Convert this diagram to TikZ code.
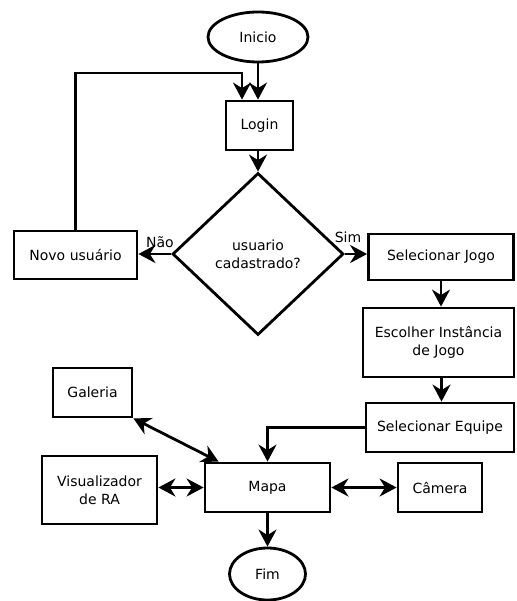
\documentclass[tikz,border=0pt]{standalone}
\usepackage{fontspec}
\setmainfont{DejaVu Sans}
\usetikzlibrary{shapes.geometric,arrows.meta}
\begin{document}
\begin{tikzpicture}[x=1pt,y=-1pt,
  every node/.style={font=\fontsize{14}{18}\selectfont},
  box/.style={draw,line width=2.8pt,rectangle,inner sep=0pt,align=center},
  oval/.style={draw,line width=2.8pt,ellipse,inner sep=0pt},
  tip/.tip={Stealth[length=17pt,width=18pt,inset=5.5pt]},
  arr/.style={line width=2.8pt,-tip},
  darr/.style={line width=2.8pt,tip-tip},
  lbl/.style={inner sep=0pt}]
\useasboundingbox (0,0) rectangle (516,601);
\node[oval,minimum width=100pt,minimum height=50pt] (inicio) at (258,37) {Inicio};
\node[box,minimum width=67pt,minimum height=49pt] (login) at (259.5,125.5) {Login};
\node[draw,line width=2.8pt,diamond,inner sep=0pt,minimum width=171pt,minimum height=162pt,align=center] (dia) at (258,254) {usuario\\cadastrado?};
\node[box,minimum width=123pt,minimum height=48pt] (novo) at (75.5,255) {Novo usuário};
\node[box,minimum width=145pt,minimum height=46pt] (selj) at (441,257) {Selecionar Jogo};
\node[box,minimum width=151pt,minimum height=69pt] (esc) at (438.5,342.5) {Escolher Instância\\de Jogo};
\node[box,minimum width=148pt,minimum height=49pt] (sele) at (440,427.5) {Selecionar Equipe};
\node[box,minimum width=125pt,minimum height=49pt] (mapa) at (267.5,487.5) {Mapa};
\node[box,minimum width=79pt,minimum height=49pt] (gal) at (92.5,392.5) {Galeria};
\node[box,minimum width=115pt,minimum height=68pt] (vis) at (99.5,490) {Visualizador\\de RA};
\node[box,minimum width=84pt,minimum height=49pt] (cam) at (440,487.5) {Câmera};
\node[oval,minimum width=76pt,minimum height=52pt] (fim) at (267.5,574) {Fim};
\coordinate (loopc) at (242,73);
\node[lbl] (nao) at (160,242) {Não};
\node[lbl] (sim) at (348,237) {Sim};
\draw[arr] (inicio.south) -- (inicio.south |- login.north);
\draw[arr] (novo.north) |- (loopc) -- (loopc |- login.north);
\draw[arr] (dia.north |- login.south) -- (dia.north);
\draw[arr] (dia.west) -- (novo.east |- dia.west);
\draw[arr] (dia.east) -- (selj.west |- dia.east);
\draw[arr] (selj.south) -- (selj.south |- esc.north);
\draw[arr] ([xshift=3pt]esc.south) -- ([xshift=3pt]esc.south |- sele.north);
\draw[arr] (sele.west) -| (mapa.north);
\draw[darr] (gal.south east) -- ([xshift=15pt]mapa.north west);
\draw[darr] (vis.east |- mapa.west) -- (mapa.west);
\draw[darr] (mapa.east) -- (cam.west |- mapa.east);
\draw[arr] (mapa.south) -- (fim.north);
\end{tikzpicture}
\end{document}
